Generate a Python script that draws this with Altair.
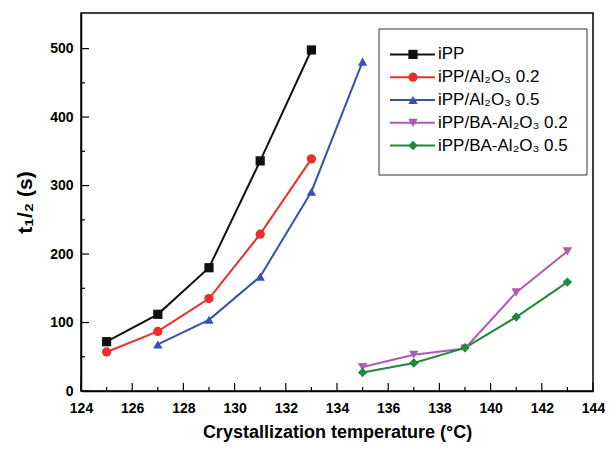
import altair as alt
import pandas as pd

series = ["iPP", "iPP/Al₂O₃ 0.2", "iPP/Al₂O₃ 0.5", "iPP/BA-Al₂O₃ 0.2", "iPP/BA-Al₂O₃ 0.5"]
colors = ["#111111", "#ec2e2e", "#3a50ab", "#b05ab5", "#1f8a3c"]
shapes = ["square", "circle", "triangle-up", "triangle-down", "diamond"]

temp_ipp = [125, 127, 129, 131, 133]
t_ipp = [72, 112, 180, 336, 498]
temp_al02 = [125, 127, 129, 131, 133]
t_al02 = [57, 87, 135, 229, 339]
temp_al05 = [127, 129, 131, 133, 135]
t_al05 = [68, 104, 167, 291, 481]
temp_ba02 = [135, 137, 139, 141, 143]
t_ba02 = [35, 53, 62, 144, 204]
temp_ba05 = [135, 137, 139, 141, 143]
t_ba05 = [27, 41, 63, 108, 159]

x_major = [124, 126, 128, 130, 132, 134, 136, 138, 140, 142, 144]
x_minor = [125, 127, 129, 131, 133, 135, 137, 139, 141, 143]
y_major = [0, 100, 200, 300, 400, 500]
y_minor = [50, 150, 250, 350, 450]

temps = [temp_ipp, temp_al02, temp_al05, temp_ba02, temp_ba05]
times = [t_ipp, t_al02, t_al05, t_ba02, t_ba05]
rows = []
for s, ts, vs in zip(series, temps, times):
    for T, v in zip(ts, vs):
        rows.append({"series": s, "T": T, "t": v})
df = pd.DataFrame(rows)

FONT = "Liberation Sans"
W, H = 512, 378

xscale = alt.Scale(domain=[124, 144], nice=False, zero=False)
yscale = alt.Scale(domain=[0, 552], nice=False)
color = alt.Color("series:N", scale=alt.Scale(domain=series, range=colors), legend=None)
shape = alt.Shape("series:N", scale=alt.Scale(domain=series, range=shapes), legend=None)
size = alt.Size("series:O", scale=alt.Scale(domain=series, range=[85, 90, 130, 130, 110]), legend=None)

xaxis = alt.Axis(values=x_major, format="d", ticks=False, grid=False, domainColor="black",
                 domainWidth=1.5, labelFont=FONT, labelFontSize=14, labelFontWeight="bold",
                 labelColor="black", labelPadding=10, title="Crystallization temperature (°C)",
                 titleFont=FONT, titleFontSize=18, titleFontWeight="bold", titleColor="black",
                 titlePadding=8, labelFlush=False)
yaxis = alt.Axis(values=y_major, format="d", ticks=False, grid=False, domainColor="black",
                 domainWidth=1.5, labelFont=FONT, labelFontSize=14, labelFontWeight="bold",
                 labelColor="black", labelPadding=8, title="t₁/₂ (s)", titleFont=FONT,
                 titleFontSize=21, titleFontWeight="bold", titleColor="black", titlePadding=14,
                 labelFlush=False)

base = alt.Chart(df)
lines = base.mark_line(strokeWidth=2).encode(
    x=alt.X("T:Q", scale=xscale, axis=xaxis),
    y=alt.Y("t:Q", scale=yscale, axis=yaxis),
    color=color,
    order="T:Q",
)
points = base.mark_point(filled=True, opacity=1).encode(
    x=alt.X("T:Q", scale=xscale),
    y=alt.Y("t:Q", scale=yscale),
    color=color,
    shape=shape,
    size=size,
)

xmaj = alt.Chart(pd.DataFrame({"v": x_major})).mark_rule(color="black", strokeWidth=1.2).encode(
    x=alt.X("v:Q", scale=xscale), y=alt.value(H), y2=alt.value(H - 8))
xmin = alt.Chart(pd.DataFrame({"v": x_minor})).mark_rule(color="black", strokeWidth=1.2).encode(
    x=alt.X("v:Q", scale=xscale), y=alt.value(H), y2=alt.value(H - 4))
ymaj = alt.Chart(pd.DataFrame({"v": y_major})).mark_rule(color="black", strokeWidth=1.2).encode(
    y=alt.Y("v:Q", scale=yscale), x=alt.value(0), x2=alt.value(8))
ymin = alt.Chart(pd.DataFrame({"v": y_minor})).mark_rule(color="black", strokeWidth=1.2).encode(
    y=alt.Y("v:Q", scale=yscale), x=alt.value(0), x2=alt.value(4))

data_layer = alt.layer(lines, points, xmaj, xmin, ymaj, ymin)

# legend
leg_df = pd.DataFrame({"series": series, "idx": list(range(len(series)))})
leg_y = alt.Y("idx:O", axis=None, scale=alt.Scale(range=[30, 144], padding=0))
box = alt.Chart(pd.DataFrame({"a": [0]})).mark_rect(fill="white", stroke="#333333", strokeWidth=1).encode(
    x=alt.value(W - 214), x2=alt.value(W - 6), y=alt.value(16), y2=alt.value(162))
leg_lines = alt.Chart(leg_df).mark_rule(strokeWidth=2).encode(
    x=alt.value(W - 203), x2=alt.value(W - 158), y=leg_y, color=color)
leg_pts = alt.Chart(leg_df).mark_point(filled=True, opacity=1).encode(
    x=alt.value(W - 180), y=leg_y, color=color, shape=shape, size=size)
leg_text = alt.Chart(leg_df).mark_text(align="left", baseline="middle", font=FONT, fontSize=17,
                                       color="black").encode(
    x=alt.value(W - 155), y=leg_y, text="series:N")
legend_layer = alt.layer(box, leg_lines, leg_pts, leg_text)

chart = alt.layer(data_layer, legend_layer).resolve_scale(y="independent").properties(
    width=W, height=H,
    autosize=alt.AutoSizeParams(type="none"),
    padding={"left": 73, "top": 5, "right": 12, "bottom": 51},
    background="white",
).configure_view(stroke="black", strokeWidth=1.5)

chart.save("out.html", embed_options={"renderer": "svg", "actions": False})
